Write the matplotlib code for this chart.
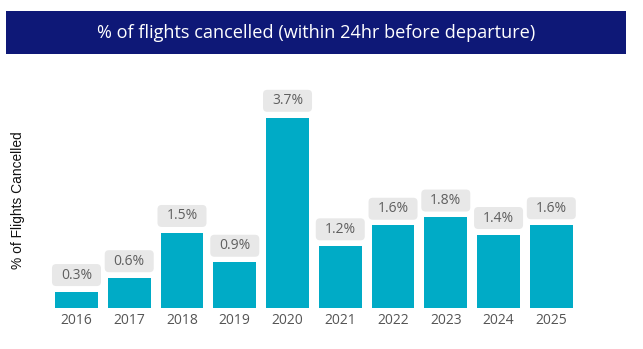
import matplotlib
matplotlib.use("Agg")
import matplotlib.pyplot as plt
from matplotlib.patches import Rectangle, FancyBboxPatch

years = ["2016", "2017", "2018", "2019", "2020", "2021", "2022", "2023", "2024", "2025"]
values = [0.31, 0.58, 1.46, 0.88, 3.70, 1.20, 1.60, 1.76, 1.42, 1.61]
labels = ["0.3%", "0.6%", "1.5%", "0.9%", "3.7%", "1.2%", "1.6%", "1.8%", "1.4%", "1.6%"]

W, H = 643, 349
fig = plt.figure(figsize=(W / 100, H / 100), dpi=100)
fig.patch.set_facecolor("white")

# title banner
fig.patches.append(Rectangle((6 / W, 1 - 54 / H), 620 / W, 43 / H,
                             transform=fig.transFigure, facecolor="#0E1877",
                             edgecolor="none", zorder=0))
fig.text(316.5 / W, 1 - 32.5 / H, "% of flights cancelled (within 24hr before departure)",
         color="white", fontsize=13.1, family="Open Sans", ha="center", va="center")

left, right = 50.1, 577.7
bottom, top = 307.7, 70.0
ax = fig.add_axes([left / W, 1 - bottom / H, (right - left) / W, (bottom - top) / H])
px_y = 51.4
px_x = (right - left) / len(years)
ax.set_ylim(0, (bottom - top) / px_y)
ax.set_xlim(-0.5, len(years) - 0.5)

x = list(range(len(years)))
ax.bar(x, values, width=0.81, color="#00ABC6", zorder=2)

bw = 49 / px_x
bh = 22 / px_y
gap = 5.7 / px_y
for xi, v, lab in zip(x, values, labels):
    ax.add_patch(FancyBboxPatch((xi - bw / 2, v + gap), bw, bh,
                                boxstyle="round,pad=0,rounding_size=0.08",
                                facecolor="#E8E8E8", edgecolor="none", zorder=3,
                                mutation_aspect=px_x / px_y))
    ax.text(xi, v + gap + bh / 2, lab, ha="center", va="center", fontsize=10,
            color="#5F5F5F", family="Open Sans", zorder=4)

ax.set_xticks(x)
ax.set_xticklabels(years, fontsize=10, color="#555555", family="Open Sans")
ax.tick_params(axis="x", length=0, pad=4)
ax.set_yticks([])
for s in ax.spines.values():
    s.set_visible(False)

fig.text(18 / W, 1 - 200 / H, "% of Flights Cancelled", rotation=90, ha="center",
         va="center", fontsize=9.9, family="Liberation Sans", color="#111111")

fig.savefig("out.png", dpi=100)
